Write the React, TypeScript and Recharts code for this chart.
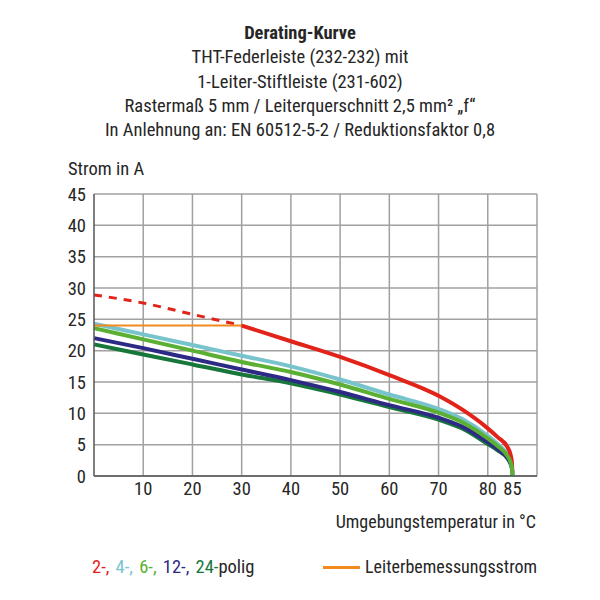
import React from "react";
import { LineChart, Line, XAxis, YAxis, CartesianGrid, ReferenceLine } from "recharts";

const temps = [0, 10, 20, 30, 40, 50, 60, 70, 75, 80, 82, 84, 84.6, 84.9, 85];

// Current in A per pole count
const pol2Dash = [28.9, 27.6, 25.8, 24.0, null, null, null, null, null, null, null, null, null, null, null];
const pol2 = [null, null, null, 24.0, 21.5, 19.0, 16.1, 12.8, 10.5, 7.6, 6.2, 4.6, 3.5, 2.2, 0.6];
const pol4 = [24.3, 22.6, 20.9, 19.2, 17.5, 15.4, 13.0, 10.7, 9.0, 6.4, 5.1, 3.4, 2.4, 1.4, 0];
const pol6 = [23.6, 21.8, 20.0, 18.2, 16.6, 14.6, 12.3, 10.1, 8.5, 6.0, 4.8, 3.2, 2.3, 1.4, 0];
const pol12 = [22.0, 20.4, 18.7, 17.0, 15.3, 13.4, 11.3, 9.3, 7.8, 5.4, 4.3, 2.9, 2.1, 1.3, 0];
const pol24 = [21.0, 19.4, 17.8, 16.2, 14.8, 13.0, 11.0, 9.0, 7.5, 5.1, 4.1, 2.8, 2.0, 1.2, 0];
const ratedCurrent = [24.0, 24.0, 24.0, 24.0, null, null, null, null, null, null, null, null, null, null, null];

const xTicks = [10, 20, 30, 40, 50, 60, 70, 80, 85];
const xGrid = [10, 20, 30, 40, 50, 60, 70, 80, 90];
const yTicks = [0, 5, 10, 15, 20, 25, 30, 35, 40, 45];
const xMinor = Array.from({ length: 46 }, (_, i) => i * 2);
const yMinor = Array.from({ length: 46 }, (_, i) => i);

const titleLines = [
  "THT-Federleiste (232-232) mit",
  "1-Leiter-Stiftleiste (231-602)",
  "Rastermaß 5 mm / Leiterquerschnitt 2,5 mm² „f“",
  "In Anlehnung an: EN 60512-5-2 / Reduktionsfaktor 0,8",
];

const C = {
  red: "#e2231a",
  cyan: "#77c4cd",
  green: "#5bb033",
  blue: "#2d2a86",
  dkgreen: "#17773a",
  orange: "#f28a1e",
  grid: "#a0a0a0",
  text: "#262626",
};

const data = temps.map((t, i) => ({
  t,
  pol2Dash: pol2Dash[i],
  pol2: pol2[i],
  pol4: pol4[i],
  pol6: pol6[i],
  pol12: pol12[i],
  pol24: pol24[i],
  rated: ratedCurrent[i],
}));

const FONT = "'Liberation Sans Narrow', 'Roboto Condensed', Roboto, sans-serif";

export default function App() {
  return (
    <div
      style={{
        position: "absolute",
        left: 0,
        top: 0,
        width: 600,
        height: 600,
        background: "#fff",
        fontFamily: FONT,
        color: C.text,
      }}
    >
      <div style={{ position: "absolute", top: 21, left: 0, width: 600, textAlign: "center", fontSize: 18.5, lineHeight: "24.3px" }}>
        <div style={{ fontWeight: "bold" }}>Derating-Kurve</div>
        {titleLines.map((l) => (
          <div key={l}>{l}</div>
        ))}
      </div>
      <div style={{ position: "absolute", top: 157, left: 68, fontSize: 18.5, lineHeight: "24px" }}>Strom in A</div>
      <div style={{ position: "absolute", top: 510, right: 64, fontSize: 18, lineHeight: "24px" }}>
        Umgebungstemperatur in °C
      </div>

      <div style={{ position: "absolute", top: 555, left: 92, fontSize: 18.5, lineHeight: "24px", whiteSpace: "nowrap", wordSpacing: 2 }}>
        <span style={{ color: C.red }}>2-, </span>
        <span style={{ color: C.cyan }}>4-, </span>
        <span style={{ color: C.green }}>6-, </span>
        <span style={{ color: C.blue }}>12-, </span>
        <span style={{ color: C.dkgreen }}>24-</span>
        <span>polig</span>
      </div>
      <div style={{ position: "absolute", top: 555, left: 323, fontSize: 18, lineHeight: "24px", whiteSpace: "nowrap", display: "flex", alignItems: "center" }}>
        <span style={{ display: "inline-block", width: 37, height: 3, background: C.orange, marginRight: 5 }} />
        <span>Leiterbemessungsstrom</span>
      </div>

      <div style={{ position: "absolute", left: 0, top: 0 }}>
        <LineChart width={600} height={600} data={data} margin={{ top: 194, right: 63, bottom: 94, left: 64 }}>
          <CartesianGrid vertical={false} stroke={C.grid} strokeWidth={1.5} />
          {xGrid.map((v) => (
            <ReferenceLine key={v} x={v} stroke={C.grid} strokeWidth={1.5} />
          ))}
          <XAxis
            dataKey="t"
            type="number"
            domain={[0, 90]}
            ticks={xTicks}
            interval={0}
            tickLine={false}
            axisLine={{ stroke: "#555", strokeWidth: 1.5 }}
            tick={{ fontSize: 18.5, fill: C.text }}
            tickMargin={0}
            height={30}
          />
          <XAxis
            xAxisId="m"
            dataKey="t"
            type="number"
            domain={[0, 90]}
            ticks={xMinor}
            interval={0}
            mirror
            tick={false}
            axisLine={false}
            tickSize={3}
            tickLine={{ stroke: "#777" }}
          />
          <YAxis
            type="number"
            domain={[0, 45]}
            ticks={yTicks}
            interval={0}
            tickLine={false}
            axisLine={{ stroke: "#555", strokeWidth: 1.5 }}
            tick={{ fontSize: 18.5, fill: C.text }}
            tickMargin={2}
            width={30}
          />
          <YAxis
            yAxisId="m"
            type="number"
            domain={[0, 45]}
            ticks={yMinor}
            interval={0}
            mirror
            tick={false}
            axisLine={false}
            tickSize={3}
            tickLine={{ stroke: "#777" }}
          />
          <Line dataKey="pol24" type="monotone" stroke={C.dkgreen} strokeWidth={4} dot={false} isAnimationActive={false} />
          <Line dataKey="pol12" type="monotone" stroke={C.blue} strokeWidth={4} dot={false} isAnimationActive={false} />
          <Line dataKey="pol4" type="monotone" stroke={C.cyan} strokeWidth={4} dot={false} isAnimationActive={false} />
          <Line dataKey="pol2" type="monotone" stroke={C.red} strokeWidth={4} dot={false} isAnimationActive={false} />
          <Line dataKey="pol6" type="monotone" stroke={C.green} strokeWidth={4} dot={false} isAnimationActive={false} />
          <Line dataKey="pol2Dash" type="monotone" stroke={C.red} strokeWidth={3} strokeDasharray="8 7" dot={false} isAnimationActive={false} />
          <Line dataKey="rated" type="linear" stroke={C.orange} strokeWidth={2} dot={false} isAnimationActive={false} />
        </LineChart>
      </div>
    </div>
  );
}
